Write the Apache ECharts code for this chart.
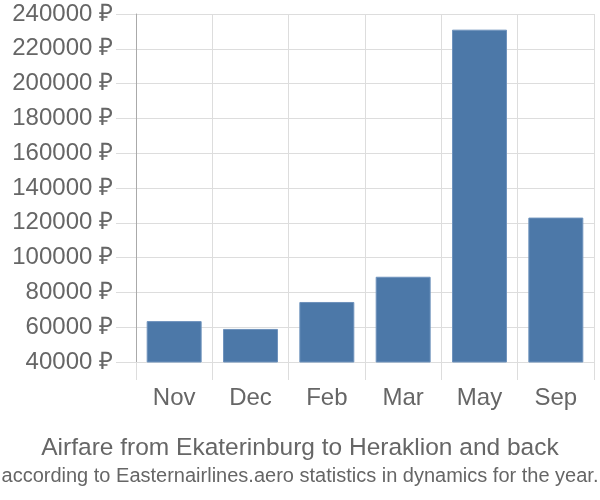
<!DOCTYPE html>
<html><head><meta charset="utf-8">
<script src="https://cdn.jsdelivr.net/npm/echarts@6/dist/echarts.min.js"></script>
<style>html,body{margin:0;padding:0;background:#fff}#c{width:600px;height:500px}</style>
</head><body><div id="c"></div>
<script>
const categories = ["Nov", "Dec", "Feb", "Mar", "May", "Sep"];
const prices = [63500, 59000, 74500, 89000, 231000, 123000];
const yMin = 40000, yMax = 240000, yStep = 20000;
const titleText = "Airfare from Ekaterinburg to Heraklion and back";
const subtitleText = "according to Easternairlines.aero statistics in dynamics for the year.";

const chart = echarts.init(document.getElementById('c'), null, {renderer: 'canvas'});
const font = '"Liberation Sans", Arial, sans-serif';
chart.setOption({
  animation: false,
  title: {
    text: titleText, subtext: subtitleText, left: 'center', top: 431, itemGap: 5,
    textStyle: {fontFamily: font, fontSize: 24.5, fontWeight: 'normal', color: '#666'},
    subtextStyle: {fontFamily: font, fontSize: 20, color: '#666'}
  },
  grid: {left: 136, right: 6, top: 14, bottom: 138, containLabel: false},
  xAxis: {
    type: 'category', data: categories,
    axisLine: {show: false},
    axisTick: {show: true, length: 18, lineStyle: {color: '#ddd'}},
    splitLine: {show: true, lineStyle: {color: '#ddd'}},
    axisLabel: {margin: 24, fontFamily: font, fontSize: 24, color: '#666'}
  },
  yAxis: {
    type: 'value', min: yMin, max: yMax, interval: yStep,
    axisLine: {show: true, lineStyle: {color: '#aaa'}},
    axisTick: {show: true, length: 20, lineStyle: {color: '#ddd'}},
    splitLine: {show: true, lineStyle: {color: '#ddd'}},
    axisLabel: {margin: 23, fontFamily: font, fontSize: 24, color: '#666',
      formatter: v => v + ' ₽'}
  },
  series: [{
    type: 'bar', data: prices, barWidth: '72%',
    itemStyle: {color: '#4c78a8', borderColor: '#6f93bd', borderWidth: 1}
  }]
});
</script></body></html>
